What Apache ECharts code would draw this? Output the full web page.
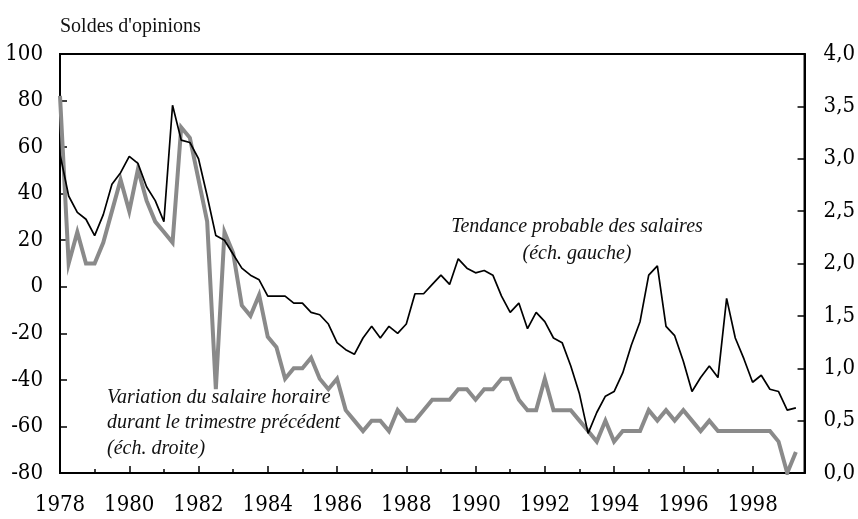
<!DOCTYPE html>
<html>
<head>
<meta charset="utf-8">
<script src="https://cdn.jsdelivr.net/npm/echarts@6/dist/echarts.min.js"></script>
<style>
  html, body { margin: 0; padding: 0; background: #fff; }
  #chart { width: 858px; height: 519px; }
</style>
</head>
<body>
<div id="chart"></div>
<script>
// Quarterly data, first quarter = 1978 Q1
const startYear = 1978;
const yearTicks = [1978, 1980, 1982, 1984, 1986, 1988, 1990, 1992, 1994, 1996, 1998];

// Tendance probable des salaires (échelle gauche, soldes d'opinions)
const tendance = [
  57, 39, 32, 29, 22, 31, 44, 49, 56, 53,
  43, 37, 28, 78, 63, 62, 55, 39, 22, 20,
  14, 8, 5, 3, -4, -4, -4, -7, -7, -11,
  -12, -16, -24, -27, -29, -22, -17, -22, -17, -20,
  -16, -3, -3, 1, 5, 1, 12, 8, 6, 7,
  5, -4, -11, -7, -18, -11, -15, -22, -24, -34,
  -46, -63, -54, -47, -45, -37, -25, -15, 5, 9,
  -17, -21, -32, -45, -39, -34, -39, -5, -22, -31,
  -41, -38, -44, -45, -53, -52
];

// Variation du salaire horaire durant le trimestre précédent (échelle droite, %)
const variation = [
  3.6, 2.0, 2.3, 2.0, 2.0, 2.2, 2.5, 2.8, 2.5, 2.9,
  2.6, 2.4, 2.3, 2.2, 3.3, 3.2, 2.8, 2.4, 0.8, 2.3,
  2.1, 1.6, 1.5, 1.7, 1.3, 1.2, 0.9, 1.0, 1.0, 1.1,
  0.9, 0.8, 0.9, 0.6, 0.5, 0.4, 0.5, 0.5, 0.4, 0.6,
  0.5, 0.5, 0.6, 0.7, 0.7, 0.7, 0.8, 0.8, 0.7, 0.8,
  0.8, 0.9, 0.9, 0.7, 0.6, 0.6, 0.9, 0.6, 0.6, 0.6,
  0.5, 0.4, 0.3, 0.5, 0.3, 0.4, 0.4, 0.4, 0.6, 0.5,
  0.6, 0.5, 0.6, 0.5, 0.4, 0.5, 0.4, 0.4, 0.4, 0.4,
  0.4, 0.4, 0.4, 0.3, 0.0, 0.2
];

const axisTitle = "Soldes d'opinions";
const labelTendance = ['Tendance probable des salaires', '(éch. gauche)'];
const labelVariation = ['Variation du salaire horaire', 'durant le trimestre précédent', '(éch. droite)'];

const toPairs = arr => arr.map((v, i) => [startYear + i / 4, v]);

const FONT = "'Liberation Serif', 'DejaVu Serif', serif";
const NUMFONT = "'DejaVu Serif Condensed', 'Liberation Serif', serif";

const chart = echarts.init(document.getElementById('chart'), null, { renderer: 'canvas' });

const tickLabel = { fontSize: 22, fontWeight: 'normal', fontFamily: NUMFONT, color: '#000' };

const option = {
  animation: false,
  backgroundColor: '#ffffff',
  textStyle: { fontFamily: FONT, color: '#000' },
  grid: {
    left: 60, right: 46, top: 54, bottom: 46,
    show: true, borderColor: '#000', borderWidth: 2, backgroundColor: 'transparent'
  },
  xAxis: [
    {
      type: 'value', min: 1978, max: 1999.5, interval: 2,
      position: 'bottom',
      axisLine: { show: true, onZero: false, lineStyle: { color: '#000', width: 2 } },
      axisTick: { show: true, inside: true, length: 7, lineStyle: { color: '#000', width: 1.5 } },
      splitLine: { show: false },
      axisLabel: Object.assign({
        show: true, margin: 21, showMaxLabel: false,
        formatter: v => (yearTicks.indexOf(v) >= 0 ? String(v) : '')
      }, tickLabel)
    },
    {
      type: 'value', min: 1978, max: 1999.5, interval: 1,
      position: 'bottom',
      axisLine: { show: false, onZero: false },
      axisTick: { show: true, inside: true, length: 4, lineStyle: { color: '#000', width: 1.5 } },
      splitLine: { show: false },
      axisLabel: { show: false }
    }
  ],
  yAxis: [
    {
      type: 'value', min: -80, max: 100, interval: 20, position: 'left',
      axisLine: { show: true, onZero: false, lineStyle: { color: '#000', width: 2 } },
      axisTick: { show: true, inside: true, length: 7, lineStyle: { color: '#000', width: 1.5 } },
      splitLine: { show: false },
      axisLabel: Object.assign({ margin: 17 }, tickLabel)
    },
    {
      type: 'value', min: 0, max: 4, interval: 0.5, position: 'right',
      axisLine: { show: true, onZero: false, lineStyle: { color: '#000', width: 2 } },
      axisTick: { show: true, inside: true, length: 7, lineStyle: { color: '#000', width: 1.5 } },
      splitLine: { show: false },
      axisLabel: Object.assign({
        margin: 19,
        formatter: v => v.toFixed(1).replace('.', ',')
      }, tickLabel)
    }
  ],
  series: [
    {
      name: labelVariation.join(' '),
      type: 'line', xAxisIndex: 0, yAxisIndex: 1,
      data: toPairs(variation),
      symbol: 'none', smooth: false,
      lineStyle: { color: '#8a8a8a', width: 4, join: 'miter' },
      z: 2
    },
    {
      name: labelTendance.join(' '),
      type: 'line', xAxisIndex: 0, yAxisIndex: 0,
      data: toPairs(tendance),
      symbol: 'none', smooth: false,
      lineStyle: { color: '#000', width: 1.7 },
      z: 3
    }
  ],
  graphic: [
    { type: 'text', left: 60, top: 17, style: { text: axisTitle, font: "20px " + FONT, fill: '#111' } },
    { type: 'text', x: 577, y: 227, style: { text: labelTendance[0], font: "italic 20px " + FONT, fill: '#111', textAlign: 'center', textVerticalAlign: 'middle' } },
    { type: 'text', x: 577, y: 254, style: { text: labelTendance[1], font: "italic 20px " + FONT, fill: '#111', textAlign: 'center', textVerticalAlign: 'middle' } },
    { type: 'text', x: 107, y: 398, style: { text: labelVariation[0], font: "italic 20px " + FONT, fill: '#111', textAlign: 'left', textVerticalAlign: 'middle' } },
    { type: 'text', x: 107, y: 423, style: { text: labelVariation[1], font: "italic 20px " + FONT, fill: '#111', textAlign: 'left', textVerticalAlign: 'middle' } },
    { type: 'text', x: 107, y: 449, style: { text: labelVariation[2], font: "italic 20px " + FONT, fill: '#111', textAlign: 'left', textVerticalAlign: 'middle' } }
  ]
};

chart.setOption(option);
</script>
</body>
</html>
